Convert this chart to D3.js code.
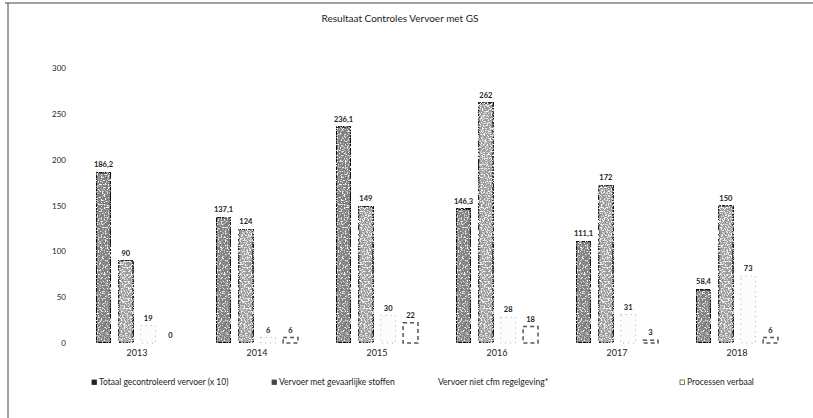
<!DOCTYPE html>
<html>
<head>
<meta charset="utf-8">
<script src="https://cdn.jsdelivr.net/npm/d3@7"></script>
<style>
  body { margin: 0; background: #fff; }
  text { font-family: Lato, "Open Sans", sans-serif; fill: #222; }
</style>
</head>
<body>
<div id="chart"></div>
<script>
// data
var years = ["2013", "2014", "2015", "2016", "2017", "2018"];
var series = ["Totaal gecontroleerd vervoer (x 10)", "Vervoer met gevaarlijke stoffen", "Vervoer niet cfm regelgeving*", "Processen verbaal"];
var totaal = [186.2, 137.1, 236.1, 146.3, 111.1, 58.4];
var gevaarlijk = [90, 124, 149, 262, 172, 150];
var nietCfm = [19, 6, 30, 28, 31, 73];
var pv = [0, 6, 22, 18, 3, 6];
var yTicks = [0, 50, 100, 150, 200, 250, 300];

var width = 813, height = 418;
var values = [totaal, gevaarlijk, nietCfm, pv];

var svg = d3.select("#chart").append("svg")
  .attr("width", width)
  .attr("height", height);

var defs = svg.append("defs");
// speckle, the scan makes the bars look grainy
function speckle(id, offset, seed) {
  var f = defs.append("filter").attr("id", id)
    .attr("x", 0).attr("y", 0).attr("width", 1).attr("height", 1);
  f.append("feTurbulence").attr("type", "fractalNoise")
    .attr("baseFrequency", 0.7).attr("numOctaves", 2).attr("seed", seed).attr("result", "noise");
  f.append("feColorMatrix").attr("in", "noise").attr("type", "matrix")
    .attr("values", "0 0 0 0 1  0 0 0 0 1  0 0 0 0 1  5 0 0 0 " + offset).attr("result", "dots");
  f.append("feComposite").attr("in", "dots").attr("in2", "SourceAlpha").attr("operator", "in").attr("result", "dotsIn");
  var m = f.append("feMerge");
  m.append("feMergeNode").attr("in", "SourceGraphic");
  m.append("feMergeNode").attr("in", "dotsIn");
}
speckle("speck1", -2.6, 3);
speckle("speck2", -2.4, 7);

var styles = [
  { fill: "#808080", stroke: "#111", sw: 2, dash: null, filter: "url(#speck1)" },
  { fill: "#9a9a9a", stroke: "#222", sw: 2, dash: null, filter: "url(#speck2)" },
  { fill: "#fcfcfc", stroke: "#aaa", sw: 1, dash: "1,4", filter: null },
  { fill: "#fff", stroke: "#555", sw: 1.5, dash: "4,3", filter: null }
];

// frame
svg.append("line").attr("x1", 5).attr("x2", width).attr("y1", 3).attr("y2", 3)
  .attr("stroke", "#444").attr("stroke-width", 1);
svg.append("line").attr("x1", 8).attr("x2", 8).attr("y1", 3).attr("y2", height)
  .attr("stroke", "#444").attr("stroke-width", 1);

svg.append("text")
  .attr("x", 400).attr("y", 22)
  .attr("text-anchor", "middle")
  .attr("font-size", 10)
  .text("Resultaat Controles Vervoer met GS");

var y = d3.scaleLinear().domain([0, 300]).range([343, 68]);
var x0 = d3.scaleBand().domain(years).range([77, 797]).paddingInner(0).paddingOuter(0);
var x1 = d3.scaleBand().domain(d3.range(4)).range([-41, 41]).paddingInner(0.333).paddingOuter(0);

// y axis, no line and no gridlines
var yAxis = d3.axisLeft(y).tickValues(yTicks).tickSize(0).tickPadding(0);
var gy = svg.append("g").attr("transform", "translate(66,0)").call(yAxis);
gy.select(".domain").remove();
gy.selectAll("text").attr("font-size", 8).attr("font-family", "Lato, sans-serif").attr("fill", "#333");

// x axis labels
var xAxis = d3.axisBottom(x0).tickSize(0).tickPadding(0);
var gx = svg.append("g").attr("transform", "translate(0,350)").call(xAxis);
gx.select(".domain").remove();
gx.selectAll("text").attr("font-size", 9).attr("font-family", "Lato, sans-serif").attr("fill", "#222");

var groups = svg.selectAll(".yr").data(years).enter().append("g")
  .attr("class", "yr")
  .attr("transform", function(d) { return "translate(" + (x0(d) + x0.bandwidth() / 2) + ",0)"; });

groups.each(function(yr, i) {
  var g = d3.select(this);
  for (var s = 0; s < 4; s++) {
    var v = values[s][i];
    var st = styles[s];
    g.append("rect")
      .attr("x", x1(s))
      .attr("y", y(v))
      .attr("width", x1.bandwidth())
      .attr("height", y(0) - y(v))
      .attr("fill", st.fill)
      .attr("stroke", st.stroke)
      .attr("stroke-width", st.sw)
      .attr("stroke-dasharray", st.dash)
      .attr("filter", st.filter);
    g.append("text")
      .attr("x", x1(s) + x1.bandwidth() / 2)
      .attr("y", y(v) - 5)
      .attr("text-anchor", "middle")
      .attr("font-size", 7.5)
      .attr("font-weight", "bold")
      .text(String(v).replace(".", ","));
  }
});

// legend
var legendX = [92, 272, 431, 680];
var legend = svg.selectAll(".lg").data(series).enter().append("g")
  .attr("class", "lg")
  .attr("transform", function(d, i) { return "translate(" + legendX[i] + ",385)"; });
legend.append("rect")
  .attr("x", 0).attr("y", -5).attr("width", 4.5).attr("height", 4.5)
  .attr("fill", function(d, i) { return ["#222", "#444", "#fff", "#fff"][i]; })
  .attr("stroke", function(d, i) { return ["#222", "#444", "#fff", "#555"][i]; })
  .attr("stroke-width", 0.8);
legend.append("text")
  .attr("x", 7).attr("y", 0)
  .attr("font-size", 8.5)
  .text(function(d) { return d; });
</script>
</body>
</html>
